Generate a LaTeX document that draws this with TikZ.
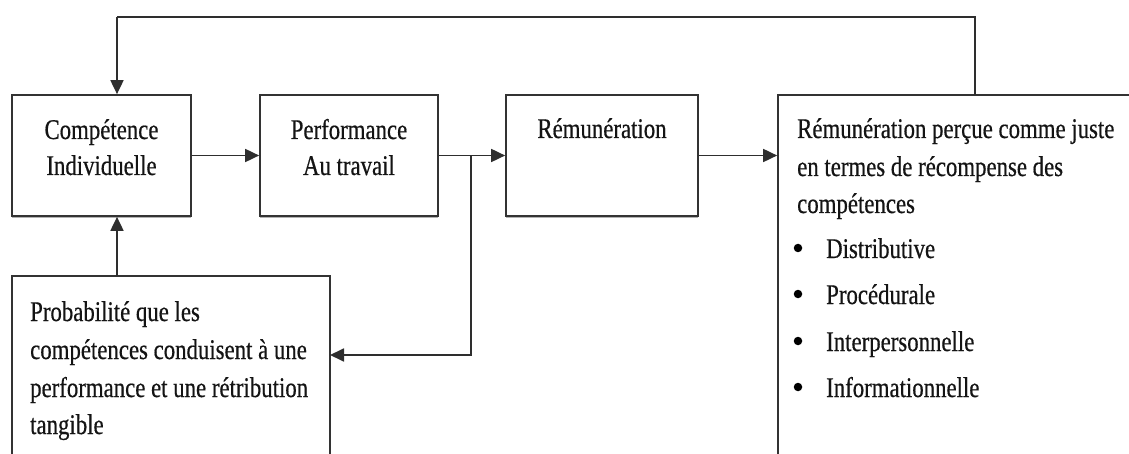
\documentclass[tikz,border=0pt]{standalone}
\usepackage{fontspec}
\setmainfont{Liberation Serif}[FakeStretch=0.8,FakeBold=0.5]
\usetikzlibrary{arrows.meta,shadows}

\tikzset{
  box/.style={draw=black!80, line width=1.7pt, fill=white, inner sep=0pt,
    drop shadow={shadow xshift=0.4pt, shadow yshift=-1.8pt, opacity=0.5, fill=black!60}},
  lbl/.style={inner sep=0pt, anchor=base, font=\fontsize{28.5}{37}\selectfont, text=black!92},
  lblw/.style={lbl, anchor=base west},
  dot/.style={circle, fill=black, inner sep=0pt, minimum size=8.5pt},
  conn/.style={draw=black!82, line width=1.8pt},
  arr/.style={conn, -{Triangle[length=14pt,width=13pt]}},
}

\begin{document}
\begin{tikzpicture}[x=1pt,y=-1pt]
\clip (0,0) rectangle (1129,454);
\useasboundingbox (0,0) rectangle (1129,454);

% boxes
\node[box, minimum width=179pt, minimum height=121pt] (comp) at (101.5,155.5) {};
\node[box, minimum width=178pt, minimum height=121pt] (perf) at (349,155.5) {};
\node[box, minimum width=192pt, minimum height=121pt] (remu) at (602,155.5) {};
\node[box, minimum width=380pt, minimum height=390pt] (juste) at (968,290) {};
\node[box, minimum width=318pt, minimum height=210pt] (proba) at (171,381) {};

% box texts
\node[lbl] (comp1) at (101.5,139) {Compétence};
\node[lbl] (comp2) at (101.5,175) {Individuelle};
\node[lbl] (perf1) at (349,139) {Performance};
\node[lbl] (perf2) at (349,175) {Au travail};
\node[lbl] (remu1) at (602,138) {Rémunération};

\node[lblw] (j1) at (797,138) {Rémunération perçue comme juste};
\node[lblw] (j2) at (797,176) {en termes de récompense des};
\node[lblw] (j3) at (797,213) {compétences};
\foreach \t/\y [count=\i] in {Distributive/258,Procédurale/304,Interpersonnelle/351,Informationnelle/397}{
  \node[dot] (b\i) at (798,\y-10) {};
  \node[lblw] (it\i) at (826,\y) {\t};
}

\node[lblw] (p1) at (30,321) {Probabilité que les};
\node[lblw] (p2) at (30,359) {compétences conduisent à une};
\node[lblw] (p3) at (30,397) {performance et une rétribution};
\node[lblw] (p4) at (30,434) {tangible};

% connector points
\coordinate (split) at (471,155.5);
\coordinate (into5) at (330,355);
\coordinate (up5) at (117,276);
\coordinate (fb4) at (975,95);
\coordinate (fbc) at (117,17);

% connectors
\draw[arr] (comp) -- (perf);
\draw[arr] (perf) -- (remu);
\draw[arr] (remu) -- (remu -| juste.west);
\draw[arr] (split) |- (into5);
\draw[arr] (up5) -- (comp.south -| up5);
\draw[conn] (fb4) |- (fbc);
\draw[arr] (fbc) -- (comp.north -| fbc);
\end{tikzpicture}
\end{document}
